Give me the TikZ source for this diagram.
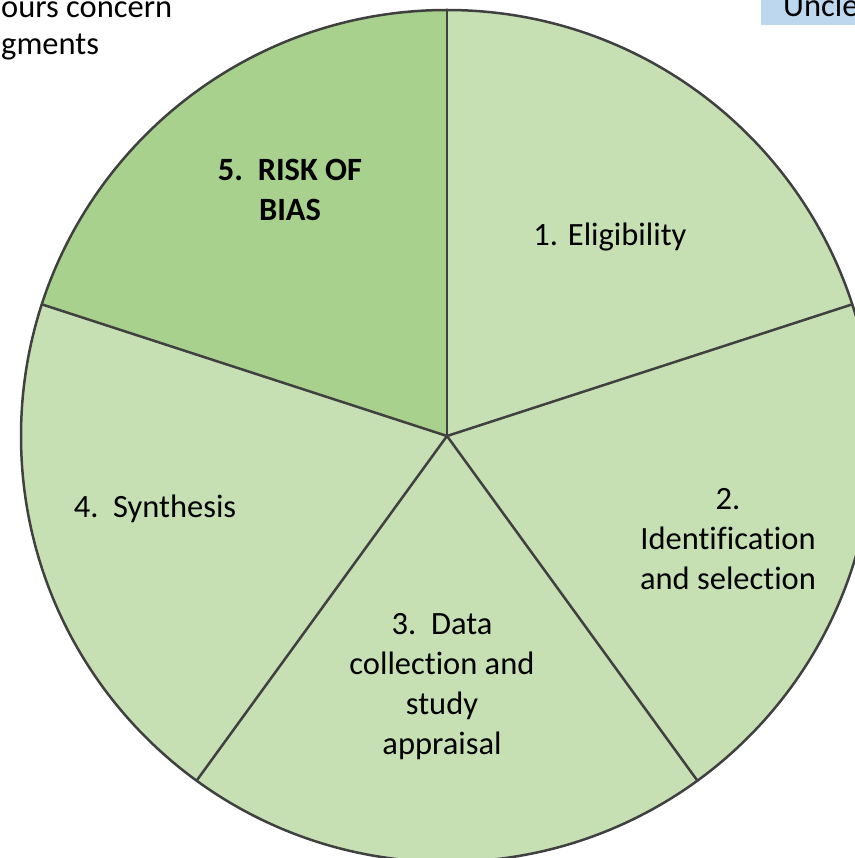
\documentclass[tikz,border=0pt]{standalone}
\usepackage{fontspec}
\setmainfont[Ligatures=NoCommon]{Carlito}
\definecolor{paleleaf}{HTML}{C6E0B4}
\definecolor{leaf}{HTML}{A9D18E}
\definecolor{rim}{HTML}{404040}
\definecolor{skyband}{HTML}{BDD7EE}
\begin{document}
\begin{tikzpicture}[x=1pt, y=-1pt,
        rimline/.style={draw=rim, line width=2.5pt, line cap=round, line join=round},
        label/.style={align=center, font=\fontsize{32.5}{40}\selectfont, inner sep=0pt},
        corner/.style={anchor=west, font=\fontsize{32.5}{40}\selectfont, inner sep=0pt}]
    \useasboundingbox (0,0) rectangle (854,858);

    % the five slices of the pie (y runs downwards, so angles are negated)
    \coordinate (hub) at (447,436);
    \fill[paleleaf] (hub) circle (426);
    \fill[leaf] (hub) -- ++(-90:426) arc[start angle=-90, end angle=-162, radius=426] -- cycle;
    \draw[rimline] (hub) circle (426);
    \foreach \a in {90,18,-54,-126,162}
        \draw[rimline] (hub) -- ++(-\a:426);

    % cut-off notes along the top edge
    \fill[skyband] (761,0) rectangle (860,25);
    \node[corner] (note) at (1,10) {ours concern};
    \node[corner] (notetwo) at (1,47) {gments};
    \node[corner] (key) at (783,5) {Uncle};

    \node[label, font=\fontsize{32.5}{40}\selectfont\bfseries] (bias) at (290,190) {5.\ \ RISK OF\\BIAS};
    \node[label] (elig) at (610,237) {1. Eligibility};
    \node[label] (ident) at (728,539) {2.\\Identification\\and selection};
    \node[label] (data) at (442,687) {3.\ \ Data\\collection and\\study\\appraisal};
    \node[label] (synth) at (155,509) {4.\ \ Synthesis};
\end{tikzpicture}
\end{document}
